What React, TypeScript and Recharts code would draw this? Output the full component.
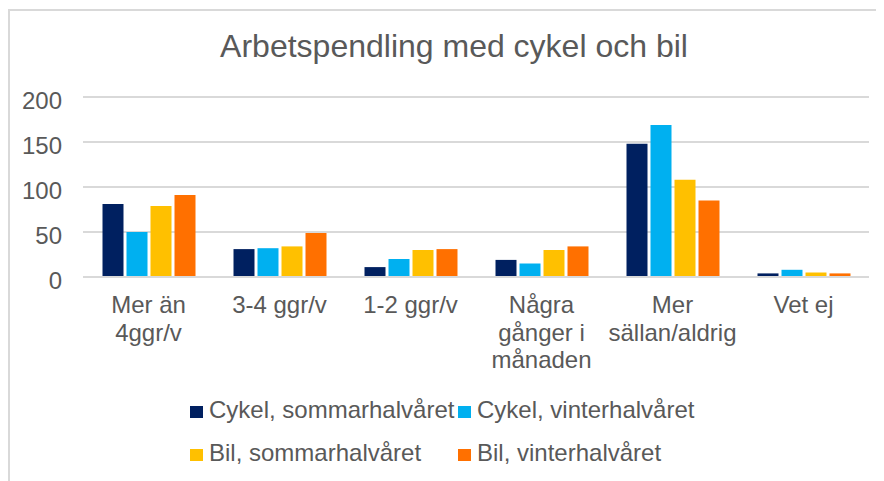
import { BarChart, Bar, XAxis, YAxis, CartesianGrid } from "recharts";

const categories = [
  "Mer än\n4ggr/v",
  "3-4 ggr/v",
  "1-2 ggr/v",
  "Några\ngånger i\nmånaden",
  "Mer\nsällan/aldrig",
  "Vet ej",
];
const cykelSommar = [81, 31, 11, 19, 148, 4];
const cykelVinter = [50, 32, 20, 15, 169, 8];
const bilSommar = [79, 34, 30, 30, 108, 5];
const bilVinter = [91, 49, 31, 34, 85, 4];
const yTicks = [0, 50, 100, 150, 200];

const SERIES = [
  { key: "cykelSommar", name: "Cykel, sommarhalvåret", color: "#002060" },
  { key: "cykelVinter", name: "Cykel, vinterhalvåret", color: "#00B0F0" },
  { key: "bilSommar", name: "Bil, sommarhalvåret", color: "#FFC000" },
  { key: "bilVinter", name: "Bil, vinterhalvåret", color: "#FF7000" },
];

const data = categories.map((name, i) => ({
  name,
  cykelSommar: cykelSommar[i],
  cykelVinter: cykelVinter[i],
  bilSommar: bilSommar[i],
  bilVinter: bilVinter[i],
}));

const FONT = '"Liberation Sans", Arial, sans-serif';
const TEXT = "#595959";
const GRID = "#d9d9d9";

// multi-line category labels, split on \n
const CategoryTick = ({ x, y, payload }: any) => {
  const lines = String(payload.value).split("\n");
  return (
    <text x={x} y={y} textAnchor="middle" fill={TEXT} fontSize={24} fontFamily={FONT}>
      {lines.map((line, i) => (
        <tspan key={i} x={x} dy={i === 0 ? 36 : 27.5}>
          {line}
        </tspan>
      ))}
    </text>
  );
};

export default function App() {
  return (
    <div style={{ position: "relative", width: 876, height: 473, fontFamily: FONT, overflow: "hidden" }}>
      <div
        style={{
          position: "absolute",
          left: 0,
          top: 1,
          right: 0,
          bottom: 0,
          borderTop: `2px solid ${GRID}`,
          borderLeft: `2px solid ${GRID}`,
          boxSizing: "border-box",
        }}
      />
      <div
        style={{
          position: "absolute",
          left: 446,
          top: 20,
          transform: "translateX(-50%)",
          whiteSpace: "nowrap",
          fontSize: 32,
          lineHeight: "36px",
          color: TEXT,
        }}
      >
        Arbetspendling med cykel och bil
      </div>
      <div style={{ position: "absolute", left: 0, top: 0 }}>
        <BarChart
          width={876}
          height={473}
          data={data}
          margin={{ top: 89, right: 15, left: 15, bottom: 104 }}
          barCategoryGap={19.5}
          barGap={3}
        >
          <CartesianGrid vertical={false} stroke={GRID} strokeWidth={2} />
          <XAxis
            dataKey="name"
            height={100}
            tickLine={false}
            tickSize={0}
            tickMargin={0}
            axisLine={{ stroke: GRID, strokeWidth: 2 }}
            interval={0}
            tick={<CategoryTick />}
          />
          <YAxis
            width={60}
            domain={[0, 200]}
            ticks={yTicks}
            axisLine={false}
            tickLine={false}
            tickMargin={15}
            tick={{ fill: TEXT, fontSize: 24, fontFamily: FONT, dy: 3 }}
          />
          {SERIES.map((s) => (
            <Bar key={s.key} dataKey={s.key} name={s.name} fill={s.color} isAnimationActive={false} />
          ))}
        </BarChart>
      </div>
      <div
        style={{
          position: "absolute",
          left: 182,
          top: 388,
          display: "grid",
          gridTemplateColumns: "268px 268px",
          rowGap: 15,
          fontSize: 24,
          lineHeight: "28px",
          color: TEXT,
        }}
      >
        {SERIES.map((s) => (
          <div key={s.key} style={{ whiteSpace: "nowrap" }}>
            <span
              style={{
                display: "inline-block",
                width: 13,
                height: 12,
                marginRight: 6,
                background: s.color,
                verticalAlign: "baseline",
              }}
            />
            {s.name}
          </div>
        ))}
      </div>
    </div>
  );
}
